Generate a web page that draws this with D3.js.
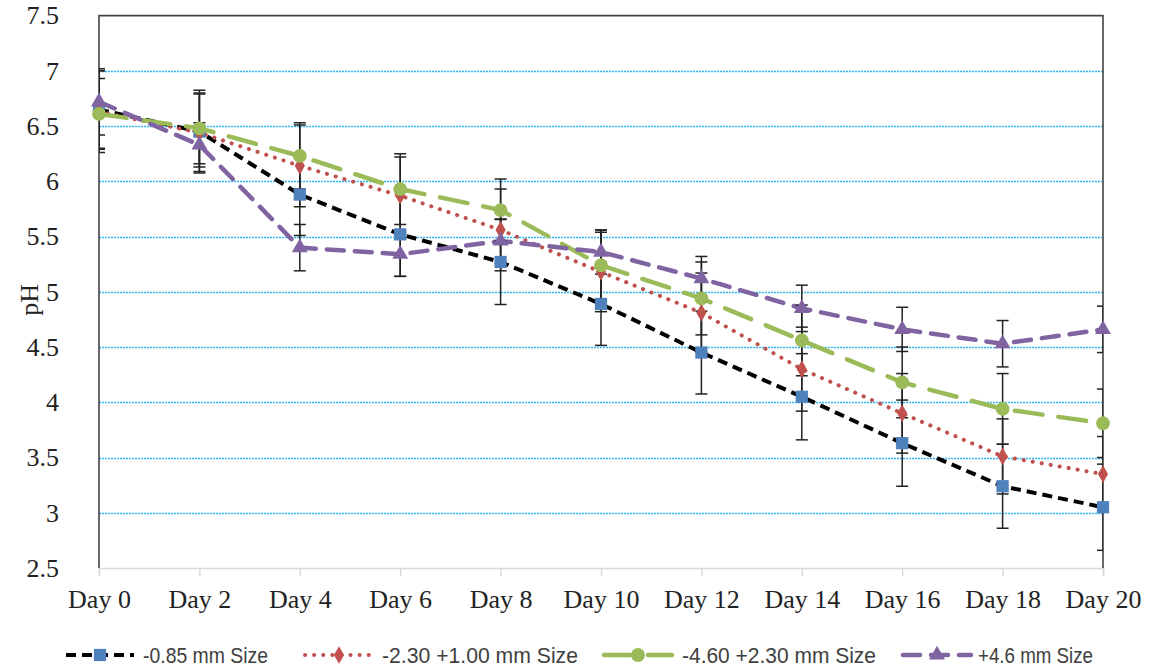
<!DOCTYPE html>
<html>
<head>
<meta charset="utf-8">
<script src="https://cdn.jsdelivr.net/npm/d3@7"></script>
<style>
  html, body { margin: 0; padding: 0; background: #fff; }
  svg { display: block; }
</style>
</head>
<body>
<svg id="chart" width="1151" height="670"></svg>
<script>
// Sampling days
const days = ["Day 0", "Day 2", "Day 4", "Day 6", "Day 8", "Day 10", "Day 12", "Day 14", "Day 16", "Day 18", "Day 20"];

// Mean pH per particle-size fraction, with standard deviations
const phFine   = [6.65, 6.45, 5.88, 5.52, 5.27, 4.89, 4.45, 4.05, 3.63, 3.24, 3.05];
const errFine  = [0.35, 0.375, 0.37, 0.38, 0.385, 0.375, 0.375, 0.39, 0.39, 0.38, 0.39];
const phSmall  = [6.63, 6.44, 6.14, 5.87, 5.56, 5.18, 4.81, 4.30, 3.90, 3.51, 3.35];
const errSmall = [0.37, 0.35, 0.37, 0.35, 0.37, 0.36, 0.36, 0.38, 0.36, 0.34, 0.34];
const phMedium = [6.61, 6.48, 6.23, 5.93, 5.74, 5.24, 4.94, 4.56, 4.18, 3.94, 3.81];
const errMedium= [0.32, 0.32, 0.30, 0.32, 0.28, 0.32, 0.33, 0.32, 0.32, 0.32, 0.31];
const phCoarse = [6.72, 6.33, 5.40, 5.34, 5.46, 5.36, 5.12, 4.85, 4.66, 4.53, 4.66];
const errCoarse= [0.30, 0.20, 0.21, 0.20, 0.20, 0.20, 0.20, 0.21, 0.20, 0.21, 0.21];

const seriesNames = ["-0.85 mm Size", "-2.30 +1.00 mm Size", "-4.60 +2.30 mm Size", "+4.6 mm Size"];
const yTicks = [2.5, 3, 3.5, 4, 4.5, 5, 5.5, 6, 6.5, 7, 7.5];

const series = [
  { name: seriesNames[0], values: phFine,   errors: errFine,   line: "#000000", fill: "#4f81bd", dash: "10,6",  width: 4,   cap: "butt",  symbol: d3.symbolSquare,   size: 150 },
  { name: seriesNames[1], values: phSmall,  errors: errSmall,  line: "#c0504d", fill: "#c0504d", dash: "0.1,9", width: 4,   cap: "round", symbol: d3.symbolDiamond,  size: 90 },
  { name: seriesNames[2], values: phMedium, errors: errMedium, line: "#9bbb59", fill: "#9bbb59", dash: "28,16", width: 4.5, cap: "round", symbol: d3.symbolCircle,   size: 150 },
  { name: seriesNames[3], values: phCoarse, errors: errCoarse, line: "#8064a2", fill: "#8064a2", dash: "17,11", width: 4.5, cap: "round", symbol: d3.symbolTriangle, size: 110 }
];

const svg = d3.select("#chart");
const plot = { left: 99, right: 1103, top: 15.6, bottom: 568 };

const x = d3.scalePoint().domain(days).range([plot.left, plot.right]);
const y = d3.scaleLinear().domain([2.5, 7.5]).range([plot.bottom, plot.top]);

svg.append("defs").append("clipPath").attr("id", "plotClip")
  .append("rect")
  .attr("x", plot.left).attr("y", plot.top)
  .attr("width", plot.right - plot.left).attr("height", plot.bottom - plot.top);

// Horizontal gridlines, snapped to the pixel grid so the dots stay crisp
svg.append("g")
  .selectAll("line")
  .data(yTicks.filter(t => t > 2.5 && t < 7.5))
  .join("line")
  .attr("x1", plot.left).attr("x2", plot.right)
  .attr("y1", d => Math.round(y(d)) + 0.5).attr("y2", d => Math.round(y(d)) + 0.5)
  .attr("stroke", "#2fb8ee")
  .attr("stroke-width", 1.3)
  .attr("stroke-dasharray", "2,1");

// Y axis (labels only, no tick marks)
const yAxis = svg.append("g")
  .attr("transform", `translate(${plot.left},0)`)
  .call(d3.axisLeft(y).tickValues(yTicks).tickSize(0).tickPadding(40).tickFormat(d3.format("")));
yAxis.select(".domain").remove();
yAxis.selectAll("text")
  .attr("font-family", "'Liberation Serif', 'Times New Roman', serif")
  .attr("font-size", 26)
  .attr("fill", "#222");

// X axis
const xAxis = svg.append("g")
  .attr("transform", `translate(0,${plot.bottom})`)
  .call(d3.axisBottom(x).tickSize(8).tickPadding(14));
xAxis.select(".domain").attr("stroke", "#d9d9d9").attr("stroke-width", 1.5);
xAxis.selectAll(".tick line").attr("stroke", "#d9d9d9").attr("stroke-width", 1.5);
xAxis.selectAll("text")
  .attr("font-family", "'Liberation Serif', 'Times New Roman', serif")
  .attr("font-size", 26)
  .attr("fill", "#222");

// Plot frame: left axis line plus top and right border
svg.append("path")
  .attr("d", `M${plot.left},${plot.bottom}V${plot.top}H${plot.right}V${plot.bottom}`)
  .attr("fill", "none")
  .attr("stroke", "#444")
  .attr("stroke-width", 1.6);

// Y axis title
svg.append("text")
  .attr("transform", `translate(38,${(plot.top + plot.bottom) / 2 + 8}) rotate(-90)`)
  .attr("text-anchor", "middle")
  .attr("font-family", "'Liberation Serif', 'Times New Roman', serif")
  .attr("font-size", 26)
  .attr("fill", "#222")
  .text("pH");

const content = svg.append("g").attr("clip-path", "url(#plotClip)");

// Lines
const lineGen = d3.line().x((d, i) => x(days[i])).y(d => y(d));
content.selectAll("path.series")
  .data(series)
  .join("path")
  .attr("class", "series")
  .attr("d", s => lineGen(s.values))
  .attr("fill", "none")
  .attr("stroke", s => s.line)
  .attr("stroke-width", s => s.width)
  .attr("stroke-dasharray", s => s.dash)
  .attr("stroke-linecap", s => s.cap);

// Error bars
const capHalf = 6;
series.forEach(s => {
  const g = content.append("g").attr("stroke", "#222").attr("stroke-width", 1.5);
  s.values.forEach((v, i) => {
    const cx = x(days[i]);
    const hi = y(v + s.errors[i]);
    const lo = y(v - s.errors[i]);
    g.append("line").attr("x1", cx).attr("x2", cx).attr("y1", hi).attr("y2", lo);
    g.append("line").attr("x1", cx - capHalf).attr("x2", cx + capHalf).attr("y1", hi).attr("y2", hi);
    g.append("line").attr("x1", cx - capHalf).attr("x2", cx + capHalf).attr("y1", lo).attr("y2", lo);
  });
});

// Markers
series.forEach(s => {
  const sym = d3.symbol().type(s.symbol).size(s.size);
  svg.append("g").selectAll("path")
    .data(s.values)
    .join("path")
    .attr("d", sym)
    .attr("transform", (d, i) => `translate(${x(days[i])},${y(d)})`)
    .attr("fill", s.fill);
});

// Legend
const legendY = 655;
const legendItems = [
  { lineX: 66,  lineW: 68, textX: 143, textW: 125 },
  { lineX: 305, lineW: 68, textX: 382, textW: 196 },
  { lineX: 604, lineW: 68, textX: 682, textW: 194 },
  { lineX: 903, lineW: 68, textX: 978, textW: 115 }
];
const legend = svg.append("g");
series.forEach((s, k) => {
  const it = legendItems[k];
  const g = legend.append("g");
  g.append("line")
    .attr("x1", it.lineX).attr("x2", it.lineX + it.lineW)
    .attr("y1", legendY).attr("y2", legendY)
    .attr("stroke", s.line)
    .attr("stroke-width", s.width)
    .attr("stroke-dasharray", s.dash)
    .attr("stroke-linecap", s.cap);
  g.append("path")
    .attr("d", d3.symbol().type(s.symbol).size(s.size)())
    .attr("transform", `translate(${it.lineX + it.lineW / 2},${legendY})`)
    .attr("fill", s.fill);
  g.append("text")
    .attr("x", it.textX).attr("y", legendY + 8)
    .attr("font-family", "'Liberation Sans Narrow', 'Arial Narrow', 'Liberation Sans', sans-serif")
    .attr("font-size", 22)
    .attr("textLength", it.textW)
    .attr("lengthAdjust", "spacingAndGlyphs")
    .attr("fill", "#404040")
    .text(s.name);
});
</script>
</body>
</html>
